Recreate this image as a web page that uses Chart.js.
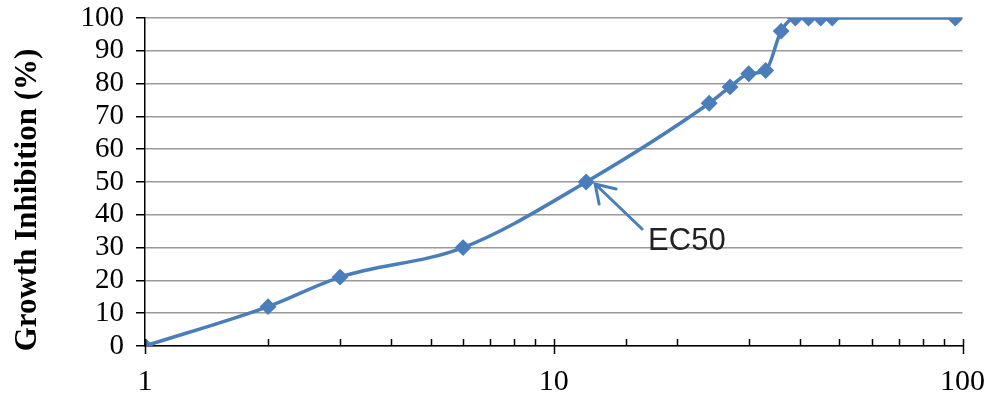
<!DOCTYPE html>
<html>
<head>
<meta charset="utf-8">
<script src="https://cdn.jsdelivr.net/npm/chart.js@4/dist/chart.umd.min.js"></script>
<style>
  html, body { margin: 0; padding: 0; background: #fff; }
  #wrap { width: 995px; height: 400px; }
</style>
</head>
<body>
<div id="wrap"><canvas id="grafico"></canvas></div>
<script>
// concentration (log axis) and growth inhibition in %
const concentracion = [1, 2, 3, 6, 12, 24, 27, 30, 33, 36, 39, 42, 45, 48, 96];
const inhibicion = [0, 12, 21, 30, 50, 74, 79, 83, 84, 96, 100, 100, 100, 100, 100];
const etiquetasX = [1, 10, 100];
const tituloY = "Growth Inhibition (%)";
const etiquetaEC50 = "EC50";
const puntoEC50 = { x: 12, y: 50 };

const azul = "#4a7ebb";

// ticks of the log axis: majors cross the axis, minors point up
const marcasX = {
  id: "marcasX",
  afterDraw(chart) {
    const c = chart.ctx;
    const sx = chart.scales.x;
    const y0 = chart.chartArea.bottom;
    c.save();
    c.strokeStyle = "#000";
    c.lineWidth = 1.5;
    sx.ticks.forEach((t) => {
      const px = Math.round(sx.getPixelForValue(t.value)) + 0.5;
      const mayor = etiquetasX.includes(t.value);
      c.beginPath();
      c.moveTo(px, y0 - 7);
      c.lineTo(px, mayor ? y0 + 8 : y0);
      c.stroke();
    });
    c.restore();
  },
};

// rotated y title, centred a bit below the plot centre like the original
const tituloEje = {
  id: "tituloEje",
  afterDraw(chart) {
    const c = chart.ctx;
    c.save();
    c.translate(28, 200);
    c.rotate(-Math.PI / 2);
    c.fillStyle = "#000";
    c.font = 'bold 31px "Liberation Serif", "Times New Roman", serif';
    c.textAlign = "center";
    c.textBaseline = "middle";
    c.fillText(tituloY, 0, 0);
    c.restore();
  },
};

// arrow + "EC50" label
const flechaEC50 = {
  id: "flechaEC50",
  afterDatasetsDraw(chart) {
    const c = chart.ctx;
    const px = chart.scales.x.getPixelForValue(puntoEC50.x);
    const py = chart.scales.y.getPixelForValue(puntoEC50.y);
    const tx = px + 9, ty = py + 2;
    c.save();
    c.strokeStyle = azul;
    c.lineWidth = 3;
    c.lineCap = "round";
    c.beginPath();
    c.moveTo(tx + 47, ty + 45);
    c.lineTo(tx, ty);
    c.moveTo(tx + 21, ty + 5);
    c.lineTo(tx, ty);
    c.lineTo(tx + 4, ty + 20);
    c.stroke();
    c.fillStyle = "#222";
    c.font = '31px "Liberation Sans Narrow", "Liberation Sans", sans-serif';
    c.textBaseline = "alphabetic";
    c.fillText(etiquetaEC50, tx + 53, ty + 66);
    c.restore();
  },
};

const ctx = document.getElementById("grafico").getContext("2d");
const grafico = new Chart(ctx, {
  type: "line",
  data: {
    datasets: [
      {
        label: "Growth Inhibition",
        data: concentracion.map((x, i) => ({ x: x, y: inhibicion[i] })),
        borderColor: azul,
        backgroundColor: azul,
        borderWidth: 3.5,
        pointStyle: "rectRot",
        pointRadius: 6,
        pointHoverRadius: 6,
        cubicInterpolationMode: "monotone",
      },
    ],
  },
  options: {
    responsive: true,
    maintainAspectRatio: false,
    animation: false,
    events: [],
    layout: {
      padding: { top: 18, right: 32, left: 0, bottom: 0 },
    },
    plugins: {
      legend: { display: false },
      tooltip: { enabled: false },
    },
    scales: {
      x: {
        type: "logarithmic",
        min: 1,
        max: 100,
        grid: { display: false },
        border: { display: true, color: "#000", width: 1.5 },
        afterFit: (s) => { s.height = 54; },
        ticks: {
          autoSkip: false,
          maxRotation: 0,
          color: "#000",
          padding: 10,
          font: { family: '"Liberation Serif", "Times New Roman", serif', size: 30 },
          callback: function (value) {
            return etiquetasX.includes(value) ? String(value) : "";
          },
        },
      },
      y: {
        min: 0,
        max: 100,
        grid: {
          color: "#9a9a9a",
          lineWidth: 1.5,
          tickColor: "#000",
          tickLength: 9,
        },
        border: { display: true, color: "#000", width: 1.5 },
        afterFit: (s) => {
          s.width = 145;
          s.paddingTop = 0;
          s.paddingBottom = 0;
        },
        ticks: {
          stepSize: 10,
          autoSkip: false,
          color: "#000",
          padding: 12,
          font: { family: '"Liberation Serif", "Times New Roman", serif', size: 29 },
        },
      },
    },
  },
  plugins: [marcasX, flechaEC50, tituloEje],
});
</script>
</body>
</html>
